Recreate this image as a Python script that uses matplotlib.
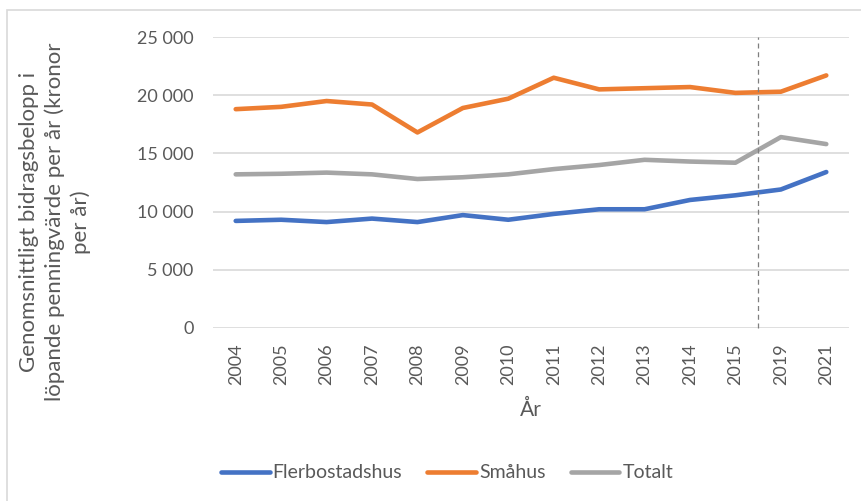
import numpy as np
import matplotlib
matplotlib.use('Agg')
import matplotlib.pyplot as plt
from matplotlib.patches import Rectangle

plt.rcParams['font.family'] = ['Lato', 'DejaVu Sans']

years = ['2004', '2005', '2006', '2007', '2008', '2009', '2010',
         '2011', '2012', '2013', '2014', '2015', '2019', '2021']
flerbostadshus = [9200, 9300, 9100, 9400, 9100, 9700, 9300,
                  9800, 10200, 10200, 11000, 11400, 11900, 13400]
smahus = [18800, 19000, 19500, 19200, 16800, 18900, 19700,
          21500, 20500, 20600, 20700, 20200, 20300, 21700]
totalt = [13200, 13250, 13350, 13200, 12800, 12950, 13200,
          13650, 14000, 14450, 14300, 14200, 16400, 15800]
yticks = [0, 5000, 10000, 15000, 20000, 25000]
ytick_labels = ['0', '5 000', '10 000', '15 000', '20 000', '25 000']
break_pos = 11.5  # between 2015 and 2019

txt = '#595959'
grid = '#D9D9D9'

fig = plt.figure(figsize=(8.62, 5.01), dpi=100)
fig.patches.append(Rectangle((7/862, -0.1), 1.2, 1.1 - 10/501, transform=fig.transFigure,
                             fill=False, edgecolor=grid, lw=1.2))

ax = fig.add_axes([213/862, 1-328/501, (849-213)/862, (328-37)/501])
x = np.arange(len(years))
ax.plot(x, flerbostadshus, color='#4472C4', lw=3.3, solid_capstyle='round', label='Flerbostadshus')
ax.plot(x, smahus, color='#ED7D31', lw=3.3, solid_capstyle='round', label='Småhus')
ax.plot(x, totalt, color='#A5A5A5', lw=3.3, solid_capstyle='round', label='Totalt')
ax.plot([break_pos, break_pos], [0, 25000], color='#7F7F7F', lw=0.9, ls=(0, (4, 3)), clip_on=False)

ax.set_xlim(-0.5, len(years) - 0.5)
ax.set_ylim(0, 25000)
ax.set_yticks(yticks)
ax.set_yticklabels(ytick_labels)
ax.set_xticks(x)
ax.set_xticklabels(years, rotation=90)
ax.grid(axis='y', color=grid, lw=1.2)
ax.set_axisbelow(True)
for s in ax.spines.values():
    s.set_visible(False)
ax.tick_params(length=0, labelsize=13, colors=txt)
ax.tick_params(axis='y', pad=14)
ax.tick_params(axis='x', pad=11)

ax.set_xlabel('År', fontsize=15, color=txt, labelpad=11)
fig.text(55/862, 1-222/501,
         'Genomsnittligt bidragsbelopp i\nlöpande penningvärde per år (kronor\nper år)',
         rotation=90, ha='center', va='center', fontsize=16, color=txt,
         multialignment='center', linespacing=1.35)

fig.legend(loc='center', bbox_to_anchor=(447/862, 1-473/501), ncol=3, frameon=False,
           fontsize=14, labelcolor=txt, handlelength=2.5, handletextpad=0.15, columnspacing=1.3)

fig.savefig('out.png', dpi=100)
